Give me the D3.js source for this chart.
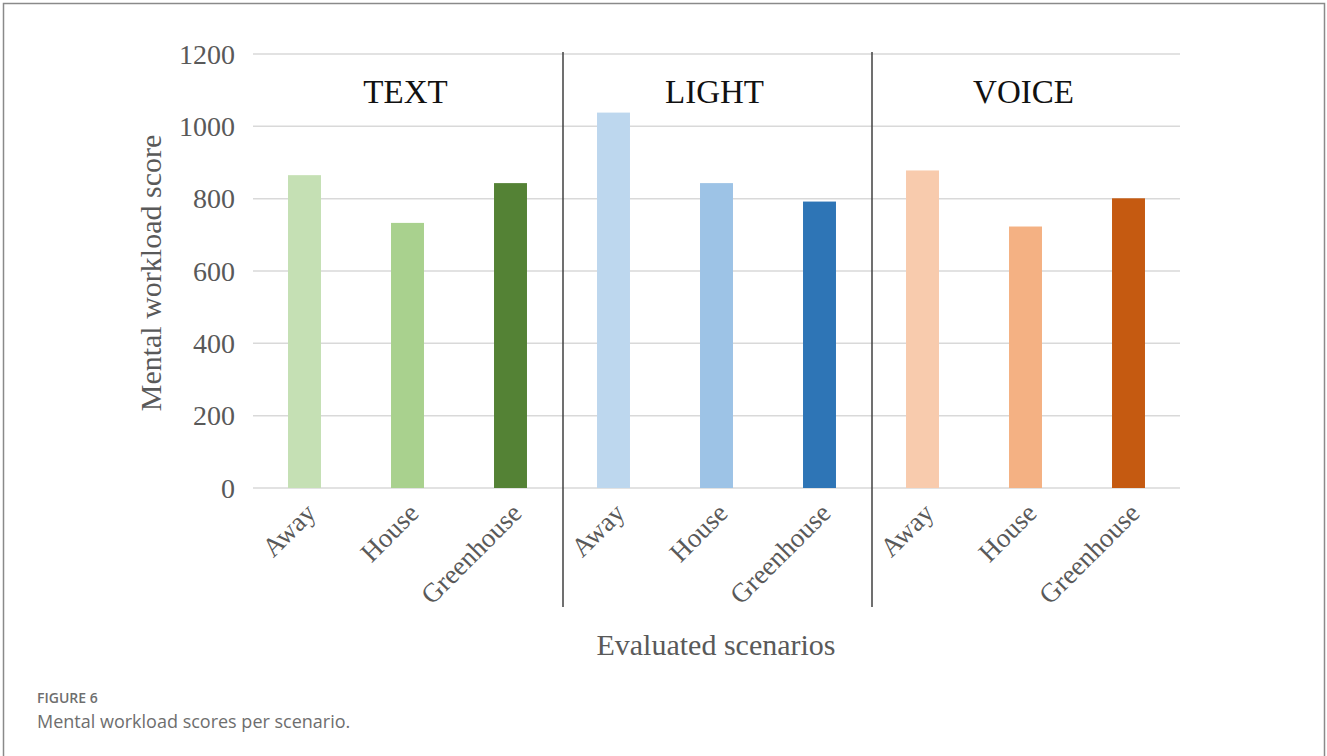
<!DOCTYPE html>
<html>
<head>
<meta charset="utf-8">
<script src="https://cdn.jsdelivr.net/npm/d3@7"></script>
<style>
  body { margin: 0; background: #fff; }
  svg { display: block; }
</style>
</head>
<body>
<svg width="1327" height="756"></svg>
<script>
const svg = d3.select("svg");

const groups = ["TEXT", "LIGHT", "VOICE"];
const scenarios = ["Away", "House", "Greenhouse"];
const textScores = [865, 733, 843];
const lightScores = [1038, 843, 792];
const voiceScores = [878, 723, 801];
const yTicks = [0, 200, 400, 600, 800, 1000, 1200];
const barColors = [
  ["#c5e0b4", "#a9d18e", "#548235"],
  ["#bdd7ee", "#9dc3e6", "#2e75b6"],
  ["#f8cbad", "#f4b183", "#c55a11"]
];

const allScores = [textScores, lightScores, voiceScores];
const rows = [];
groups.forEach((g, gi) => {
  scenarios.forEach((s, si) => {
    rows.push({ key: g + "-" + s, group: g, gi, label: s, value: allScores[gi][si], color: barColors[gi][si] });
  });
});

const plotLeft = 253, plotRight = 1180, plotTop = 54, plotBottom = 488;
const serif = "Liberation Serif, Times New Roman, serif";

const x = d3.scaleBand()
  .domain(rows.map(d => d.key))
  .range([plotLeft, plotRight])
  .paddingInner(0.68)
  .paddingOuter(0.34);

const y = d3.scaleLinear().domain([0, 1200]).range([plotBottom, plotTop]);

// frame around the figure
svg.append("path")
  .attr("d", "M3.5,760 V3.5 H1324.5 V760")
  .attr("fill", "none")
  .attr("stroke", "#8a8a8a")
  .attr("stroke-width", 1.5);

// gridlines
svg.append("g")
  .selectAll("line")
  .data(yTicks)
  .join("line")
  .attr("x1", plotLeft).attr("x2", plotRight)
  .attr("y1", d => y(d)).attr("y2", d => y(d))
  .attr("stroke", "#d9d9d9")
  .attr("stroke-width", 1.5);

// y tick labels
svg.append("g")
  .selectAll("text")
  .data(yTicks)
  .join("text")
  .attr("x", 235)
  .attr("y", d => y(d))
  .attr("dy", "0.35em")
  .attr("text-anchor", "end")
  .attr("font-family", serif)
  .attr("font-size", 28)
  .attr("fill", "#595959")
  .text(d => d);

// bars
svg.append("g")
  .selectAll("rect")
  .data(rows)
  .join("rect")
  .attr("x", d => x(d.key))
  .attr("width", x.bandwidth())
  .attr("y", d => y(d.value))
  .attr("height", d => y(0) - y(d.value))
  .attr("fill", d => d.color);

// group separators
const step = x.step();
svg.append("g")
  .selectAll("line")
  .data([1, 2])
  .join("line")
  .attr("x1", i => plotLeft + i * 3 * step + 1)
  .attr("x2", i => plotLeft + i * 3 * step + 1)
  .attr("y1", 52)
  .attr("y2", 607)
  .attr("stroke", "#404040")
  .attr("stroke-width", 1.5);

// group titles
svg.append("g")
  .selectAll("text")
  .data(groups)
  .join("text")
  .attr("x", (g, i) => plotLeft + (i * 3 + 1.5) * step - 2)
  .attr("y", 103)
  .attr("text-anchor", "middle")
  .attr("font-family", serif)
  .attr("font-size", 33)
  .attr("fill", "#111")
  .text(d => d);

// x tick labels
svg.append("g")
  .selectAll("text")
  .data(rows)
  .join("text")
  .attr("transform", d => `translate(${x(d.key) + x.bandwidth() / 2 + 6},${plotBottom + 20}) rotate(-45)`)
  .attr("text-anchor", "end")
  .attr("dy", "0.35em")
  .attr("font-family", serif)
  .attr("font-size", 27)
  .attr("fill", "#595959")
  .text(d => d.label);

// axis titles
svg.append("text")
  .attr("transform", `translate(161,${(plotTop + plotBottom) / 2 + 2}) rotate(-90)`)
  .attr("text-anchor", "middle")
  .attr("font-family", serif)
  .attr("font-size", 30)
  .attr("fill", "#595959")
  .text("Mental workload score");

svg.append("text")
  .attr("x", 716)
  .attr("y", 655)
  .attr("text-anchor", "middle")
  .attr("font-family", serif)
  .attr("font-size", 30)
  .attr("fill", "#595959")
  .text("Evaluated scenarios");

// caption
svg.append("text")
  .attr("x", 37)
  .attr("y", 703)
  .attr("font-family", "Open Sans, sans-serif")
  .attr("font-size", 14)
  .attr("font-weight", 600)
  .attr("fill", "#6e6e6e")
  .text("FIGURE 6");

svg.append("text")
  .attr("x", 37)
  .attr("y", 728)
  .attr("font-family", "Open Sans, sans-serif")
  .attr("font-size", 18)
  .attr("fill", "#6e6e6e")
  .text("Mental workload scores per scenario.");
</script>
</body>
</html>
